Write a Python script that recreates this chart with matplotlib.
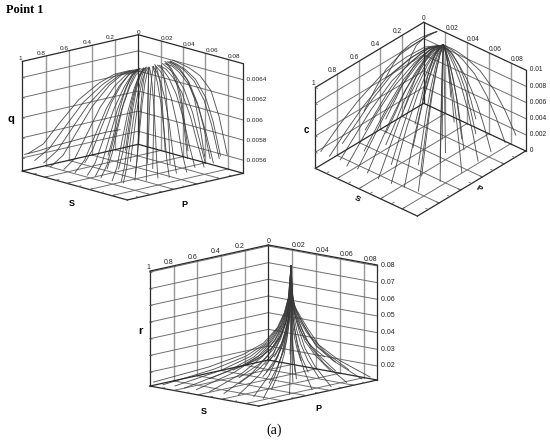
import matplotlib
matplotlib.use('Agg')
import matplotlib.pyplot as plt
import numpy as np
from mpl_toolkits.mplot3d import proj3d

plt.rcParams['font.family'] = ['Liberation Sans', 'DejaVu Sans']

W, H = 550, 440

s_ticks = [0, 0.2, 0.4, 0.6, 0.8, 1]
s_tick_labels = ['0', '0.2', '0.4', '0.6', '0.8', '1']
p_ticks = [0.02, 0.04, 0.06, 0.08]
p_tick_labels = ['0.02', '0.04', '0.06', '0.08']

# q panel, one row per curve, z in 1e-5
q_zticks = [0.0056, 0.0058, 0.006, 0.0062, 0.0064]
q_zlabels = ['0.0056', '0.0058', '0.006', '0.0062', '0.0064']
q_t = [0, 0.15, 0.3, 0.5, 0.7, 0.85, 1]
q_s0 = [.17, .165, .16, .155, .15, .145, .14, .13, .125, .12, .11, .10, .09, .08, .06, .045, .03,
        .15, .14, .11, .13, .11, .09, .10, .09, .07, .07, .05, .04, .035, .35,
        .10, .085, .07, .115, .125, .05, .04, .135, .12, .12, .10]
q_p0 = [.010, .011, .012, .013, .014, .015, .016, .017, .018, .019, .021, .023, .025, .027, .03, .032, .034,
        .015, .016, .021, .014, .02, .025, .018, .023, .028, .022, .03, .028, .032, .02,
        .024, .026, .029, .022, .02, .031, .033, .015, .017, .018, .02]
q_s1 = [.95, .95, .93, .95, .93, .93, .92, .90, .90, .90, .75, .60, .45, .30, .22, .15, .10,
        .75, .75, .70, .55, .55, .55, .40, .40, .40, .25, .25, .15, .15, .98,
        .50, .35, .25, .65, .80, .18, .12, .90, .87, .70, .50]
q_p1 = [0, .006, .012, .02, .03, .04, .05, .06, .07, .08, .085, .09, .09, .09, .09, .088, .09,
        .03, .05, .07, .03, .05, .07, .03, .05, .07, .05, .07, .06, .075, 0,
        .086, .087, .086, .085, .08, .083, .086, .055, .075, .055, .06]
q_z = [
    [628, 627, 621, 608, 587, 570, 563],
    [628, 627, 620, 606, 584, 567, 558],
    [629, 627, 620, 605, 583, 566, 557],
    [629, 628, 621, 605, 582, 564, 556],
    [630, 628, 621, 605, 581, 563, 556],
    [630, 629, 622, 606, 582, 564, 556],
    [631, 630, 622, 606, 582, 564, 556],
    [631, 630, 623, 607, 583, 564, 556],
    [632, 630, 623, 607, 583, 564, 556],
    [632, 631, 624, 608, 585, 566, 557],
    [633, 632, 626, 612, 589, 568, 557],
    [634, 633, 628, 615, 593, 571, 558],
    [635, 634, 630, 618, 597, 574, 559],
    [636, 636, 632, 622, 602, 580, 560],
    [638, 639, 636, 628, 610, 588, 562],
    [640, 640, 638, 631, 616, 594, 564],
    [642, 641, 640, 636, 625, 602, 567],
    [630, 629, 622, 607, 585, 568, 558],
    [631, 630, 624, 610, 587, 569, 558],
    [633, 631, 626, 612, 590, 570, 558],
    [630, 629, 624, 611, 592, 574, 560],
    [632, 631, 627, 615, 595, 576, 560],
    [634, 632, 628, 616, 596, 576, 559],
    [632, 631, 627, 618, 601, 581, 561],
    [634, 632, 629, 620, 603, 582, 561],
    [636, 634, 630, 621, 604, 583, 560],
    [635, 634, 631, 624, 609, 587, 562],
    [638, 637, 634, 626, 610, 588, 561],
    [639, 638, 635, 628, 613, 591, 563],
    [640, 639, 637, 630, 615, 592, 562],
    [577, 576, 574, 571, 568, 565, 563],
    [634, 633, 629, 617, 596, 573, 558],
    [636, 635, 631, 620, 600, 578, 560],
    [638, 636, 633, 624, 605, 583, 561],
    [633, 632, 627, 614, 592, 570, 557],
    [632, 631, 625, 610, 587, 567, 557],
    [640, 639, 637, 630, 613, 591, 563],
    [641, 640, 638, 632, 618, 597, 565],
    [630, 629, 622, 606, 582, 564, 556],
    [631, 630, 623, 607, 584, 565, 556],
    [631, 630, 625, 611, 588, 569, 558],
    [632, 631, 627, 615, 596, 576, 560],
]

# c panel, z in 1e-4
c_zticks = [0, 0.002, 0.004, 0.006, 0.008, 0.01]
c_zlabels = ['0', '0.002', '0.004', '0.006', '0.008', '0.01']
c_t = [0, 0.15, 0.3, 0.5, 0.7, 0.85, 1]
c_s0 = [.02]*14 + [.01]*2 + [.02]*12 + [0, 0, 0] + [.02]*10
c_p0 = [.02]*14 + [.02]*2 + [.02]*12 + [.012, .012, .012] + [.02]*10
c_s1 = [.95, .95, .93, .95, .93, .92, .92, .90, .88, .85, .70, .55, .40, .28, .15, .05,
        .75, .75, .72, .55, .55, .55, .38, .38, .38, .22, .22, .12, .35, .60, .20,
        .80, .62, .47, .33, .21, .10, .65, .45, .30, .65]
c_p1 = [0, .008, .016, .024, .032, .04, .05, .06, .07, .08, .085, .09, .09, .09, .09, .09,
        .02, .045, .07, .02, .045, .07, .03, .055, .075, .05, .07, .06, 0, .005, .005,
        .005, .008, .012, .015, .02, .035, .06, .065, .065, .03]
c_z = [
    [86, 93, 90, 81, 60, 40, 17],
    [86, 92, 89, 79, 58, 38, 16],
    [86, 92, 88, 77, 56, 36, 15],
    [86, 91, 87, 75, 54, 34, 14],
    [86, 90, 86, 74, 53, 33, 14],
    [86, 90, 85, 73, 52, 33, 13],
    [86, 89, 85, 72, 52, 32, 12],
    [86, 89, 84, 72, 52, 32, 11],
    [86, 88, 84, 72, 52, 33, 11],
    [86, 88, 84, 72, 52, 33, 10],
    [86, 87, 84, 73, 55, 36, 13],
    [86, 87, 84, 74, 57, 38, 15],
    [86, 87, 84, 75, 59, 40, 17],
    [86, 87, 84, 76, 60, 42, 19],
    [85, 86, 84, 77, 61, 43, 20],
    [85, 86, 84, 77, 62, 44, 21],
    [86, 90, 85, 73, 52, 33, 14],
    [86, 88, 84, 72, 52, 33, 13],
    [86, 87, 83, 71, 51, 32, 12],
    [86, 89, 84, 72, 54, 36, 20],
    [86, 88, 83, 71, 53, 35, 18],
    [86, 87, 83, 72, 54, 35, 16],
    [86, 87, 83, 72, 57, 40, 24],
    [86, 87, 83, 73, 57, 39, 21],
    [86, 86, 83, 73, 58, 40, 20],
    [86, 86, 83, 75, 61, 44, 26],
    [86, 86, 83, 75, 61, 44, 24],
    [85, 86, 84, 76, 62, 46, 28],
    [96, 96, 95, 92, 85, 74, 60],
    [96, 96, 94, 90, 80, 62, 42],
    [96, 96, 95, 92, 87, 78, 66],
    [86, 91, 88, 78, 57, 37, 18],
    [86, 90, 87, 77, 58, 40, 22],
    [86, 89, 86, 77, 60, 43, 26],
    [86, 88, 85, 77, 62, 46, 30],
    [86, 87, 85, 77, 64, 50, 34],
    [86, 86, 84, 77, 65, 52, 38],
    [86, 87, 83, 71, 52, 33, 14],
    [86, 86, 83, 72, 55, 36, 16],
    [86, 86, 83, 74, 59, 41, 21],
    [86, 88, 84, 72, 54, 36, 20],
]

# r panel, z in 1e-3
r_zticks = [0.02, 0.03, 0.04, 0.05, 0.06, 0.07, 0.08]
r_zlabels = ['0.02', '0.03', '0.04', '0.05', '0.06', '0.07', '0.08']
r_t = [0, 0.02, 0.05, 0.1, 0.2, 0.35, 0.6, 1]
r_s0 = [.01]*40
r_p0 = [.02]*40
r_s1 = [.97, .97, .95, .95, .93, .92, .90, .88, .85, .85, .68, .52, .38, .25, .12, .05,
        .70, .70, .68, .50, .50, .50, .33, .33, .33, .18, .18, .08, .12, .20,
        .60, .60, .42, .42, .42, .27, .27, .14, .08, .04]
r_p1 = [0, .008, .016, .024, .032, .042, .052, .062, .072, .08, .085, .088, .09, .09, .09, .09,
        .02, .045, .07, .02, .045, .07, .03, .055, .075, .045, .07, .055, .03, .025,
        .035, .06, .02, .04, .065, .035, .06, .07, .075, .06]
r_z = [
    [71, 52, 43, 35, 27, 22, 17.6, 13.5],
    [71, 52, 43.5, 35.5, 27, 21.5, 17, 13],
    [71, 52, 44, 36, 27.5, 21.5, 16.8, 13],
    [71, 52, 44, 36, 28, 21.5, 16.6, 12.8],
    [71, 52, 44.5, 37, 29, 22, 16.6, 12.6],
    [71, 52, 45, 38, 30, 22.5, 16.8, 12.5],
    [71, 52, 45, 38.5, 31, 23, 16.8, 12.5],
    [71, 52, 45.5, 39, 32, 23.5, 17, 12.5],
    [71, 52, 45.5, 39.5, 32.5, 23.8, 17, 12.5],
    [71, 52, 45.6, 39.6, 32.6, 23.8, 17, 12.5],
    [71, 52, 46, 40.5, 33.5, 25, 18, 13],
    [71, 52.5, 46, 41, 34.5, 26, 19, 13.5],
    [71, 52.5, 46.5, 42, 35, 26.5, 19.5, 13.5],
    [71, 52.5, 46.8, 42.5, 35.5, 26.8, 20, 14],
    [71, 52.6, 46.8, 43, 36, 26.8, 20.4, 14],
    [71, 52.6, 46.8, 43, 36, 26.9, 20.4, 14],
    [71, 52, 44, 36, 28, 22, 17.5, 14],
    [71, 52, 45, 38, 30, 23, 18, 14.5],
    [71, 52, 46, 39, 32, 24, 18, 14],
    [71, 53, 45, 37, 29.5, 23.5, 19, 16],
    [71, 53, 46, 39, 31.5, 25, 19, 15.5],
    [71, 53, 46, 40, 33, 26, 20, 15],
    [71, 54, 47, 40, 33, 27, 22, 18],
    [71, 54, 47, 41, 34, 27.5, 22, 17],
    [71, 54, 47, 42, 35, 28, 21.5, 16],
    [71, 55, 48, 42, 36, 30, 25, 20],
    [71, 55, 48, 43, 36.5, 29, 23, 17],
    [71, 55, 48, 43, 37, 31, 26, 22],
    [71, 56, 50, 45, 39, 33, 27, 21],
    [71, 56, 49, 44, 38, 32, 26, 20],
    [71, 53, 45, 38, 31, 24.5, 19, 15],
    [71, 53, 46, 40, 33, 25.5, 19.5, 15],
    [71, 54, 46, 39, 31, 25, 20.5, 17],
    [71, 54, 47, 41, 33, 26.5, 21, 16.5],
    [71, 54, 47, 41, 34, 27, 21, 15.5],
    [71, 55, 48, 42, 35, 28.5, 23, 18],
    [71, 55, 48, 42, 35.5, 28.5, 22, 16.5],
    [71, 55, 48, 43, 37, 29.5, 23, 16.5],
    [71, 56, 49, 44, 38, 31, 24, 17],
    [71, 56, 50, 45, 39, 33, 26, 19],
]


def place(ax, back_px, span_px, pmax, zmin):
    # find the 2D scale of the 3D box, then move the axes so the box lands on back_px
    side = 300
    ax.set_position([0, 0, side / W, side / H])
    ax.apply_aspect()
    x, y, _ = proj3d.proj_transform(np.array([0, 1, 0]), np.array([0, 0, pmax]),
                                    np.array([zmin] * 3), ax.get_proj())
    pts = ax.transData.transform(np.column_stack([x, y]))
    k = span_px / (pts[2, 0] - pts[1, 0])
    left = back_px[0] - k * pts[0, 0]
    bottom = H - back_px[1] - k * pts[0, 1]
    ax.set_position([left / W, bottom / H, side * k / W, side * k / H])


def label3d(ax, x, y, z, txt, **kw):
    # 2D text at the projected spot of a 3D point
    x2, y2, _ = proj3d.proj_transform(np.array([x]), np.array([y]), np.array([z]), ax.get_proj())
    ax.text2D(x2[0], y2[0], txt, transform=ax.transData, **kw)


def panel(view, box, back_px, span_px, pmax, zlim, zticks, zlabels, t, s0, p0, s1, p1, z, scale, fs):
    ax = fig.add_axes([0, 0, 1, 1], projection='3d', proj_type='ortho')
    ax.set_box_aspect(box)
    ax.view_init(elev=view[0], azim=view[1])
    ax.set_xlim(0, 1, view_margin=0)
    ax.set_ylim(0, pmax, view_margin=0)
    ax.set_zlim(zlim[0], zlim[1], view_margin=0)
    ax.set_axis_off()
    place(ax, back_px, span_px, pmax, zlim[0])
    zb, zt = zlim
    vgrid = dict(color='#989898', lw=1.0)
    hgrid = dict(color='#707070', lw=0.7)
    frame = dict(color='#2a2a2a', lw=0.9)
    tick = dict(color='#555555', lw=0.5)
    for s in s_ticks[1:-1]:
        ax.plot([s, s], [0, 0], [zb, zt], **vgrid)
        ax.plot([s, s], [0, pmax], [zb, zb], **hgrid)
    for p in p_ticks:
        ax.plot([0, 0], [p, p], [zb, zt], **vgrid)
        ax.plot([0, 1], [p, p], [zb, zb], **hgrid)
    for v in zticks:
        if v > zb and v < zt:
            ax.plot([0, 1], [0, 0], [v, v], **hgrid)
            ax.plot([0, 0], [0, pmax], [v, v], **hgrid)

    tt = np.array(t)
    for i in range(len(z)):
        xs = s0[i] + tt * (s1[i] - s0[i])
        ys = p0[i] + tt * (p1[i] - p0[i])
        ax.plot(xs, ys, np.array(z[i]) * scale, color='#383838', lw=0.65, alpha=0.85)

    for xs, ys, zs in [([0, 1], [0, 0], [zt, zt]), ([0, 0], [0, pmax], [zt, zt]),
                       ([1, 1], [0, 0], [zb, zt]), ([0, 0], [0, 0], [zb, zt]),
                       ([0, 0], [pmax, pmax], [zb, zt]), ([0, 1], [0, 0], [zb, zb]),
                       ([0, 0], [0, pmax], [zb, zb]), ([1, 1], [0, pmax], [zb, zb]),
                       ([0, 1], [pmax, pmax], [zb, zb])]:
        ax.plot(xs, ys, zs, **frame)

    # small ticks on the front floor edges and on the left edge
    for s in s_ticks[1:] + [0.1, 0.3, 0.5, 0.7, 0.9]:
        ax.plot([s, s], [pmax, pmax * 0.975], [zb, zb], **tick)
    for p in p_ticks + [0.01, 0.03, 0.05, 0.07]:
        ax.plot([1, 0.975], [p, p], [zb, zb], **tick)
    for v in zticks:
        ax.plot([1, 1], [0, pmax * 0.02], [v, v], **tick)

    lab = dict(fontsize=fs, color='#222222')
    for s, txt in zip(s_ticks, s_tick_labels):
        label3d(ax, s, 0, zt, txt, ha='right' if s > 0 else 'center', va='bottom', **lab)
    for p, txt in zip(p_ticks, p_tick_labels):
        label3d(ax, 0, p, zt, txt, ha='left', va='bottom', **lab)
    for v, txt in zip(zticks, zlabels):
        label3d(ax, 0, pmax, v, '  ' + txt, ha='left', va='center', **lab)
    return ax


fig = plt.figure(figsize=(W / 100, H / 100), dpi=100)

panel((14.6, 47.6), (157, 155.7, 113.2), (138.3, 144.3), 221, 0.094, (0.00547, 0.00656),
      q_zticks, q_zlabels, q_t, q_s0, q_p0, q_s1, q_p1, q_z, 1e-5, 4.6)
panel((32, 41.4), (163.8, 136, 95.5), (423.7, 103.3), 210.3, 0.094, (0, 0.01),
      c_zticks, c_zlabels, c_t, c_s0, c_p0, c_s1, c_p1, c_z, 1e-4, 4.8)
panel((11.6, 42.4), (175.5, 147.5, 117.4), (268.3, 360), 227.3, 0.091, (0.0116, 0.0806),
      r_zticks, r_zlabels, r_t, r_s0, r_p0, r_s1, r_p1, r_z, 1e-3, 5)


def label(x, y, txt, **kw):
    fig.text(x / W, 1 - y / H, txt, ha='center', va='center', **kw)


label(25, 10, 'Point 1', family='Liberation Serif', fontsize=8.8, fontweight='bold')
label(11, 119, 'q', fontsize=8, fontweight='bold')
label(72, 203, 'S', fontsize=6.5, fontweight='bold')
label(184, 204, 'P', fontsize=6.5, fontweight='bold')
label(306, 130, 'c', fontsize=7, fontweight='bold')
label(357, 199, 'S', fontsize=6, fontweight='bold', rotation=-30)
label(479, 189, 'P', fontsize=6, fontweight='bold', rotation=-30)
label(140, 331, 'r', fontsize=8, fontweight='bold')
label(204, 411, 'S', fontsize=6.5, fontweight='bold')
label(318, 408, 'P', fontsize=6.5, fontweight='bold')
label(274, 430, '(a)', family='Liberation Serif', fontsize=10)

fig.savefig('out.png', dpi=100)
